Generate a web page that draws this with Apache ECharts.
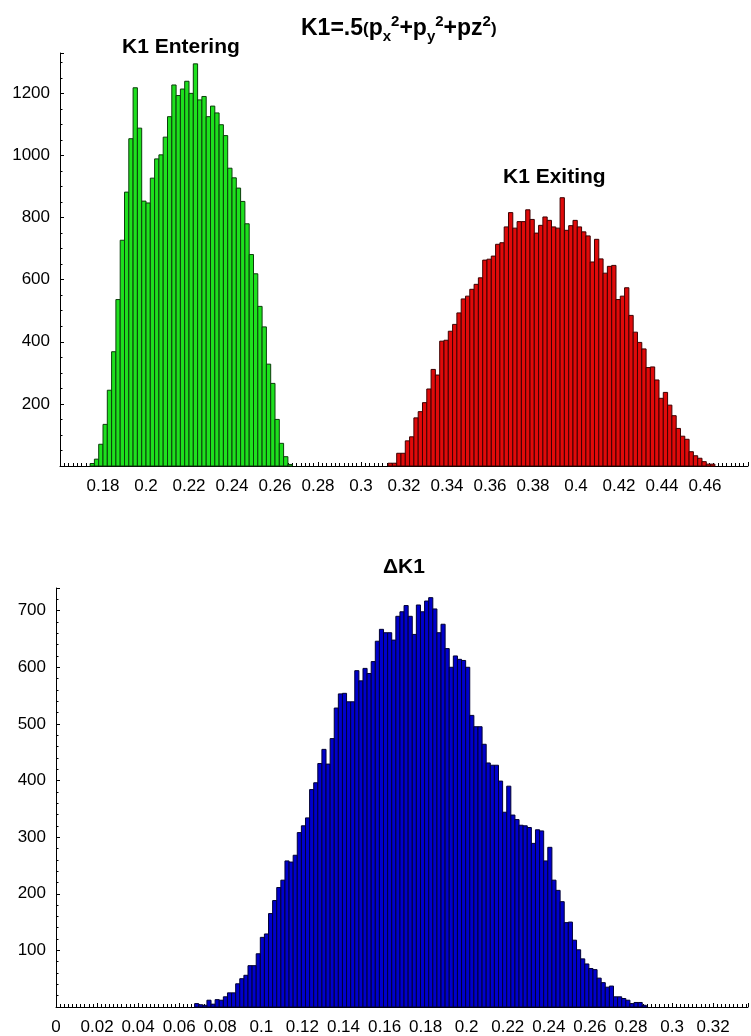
<!DOCTYPE html>
<html>
<head>
<meta charset="utf-8">
<script src="https://cdn.jsdelivr.net/npm/echarts@6/dist/echarts.min.js"></script>
<style>
    html, body { margin: 0; padding: 0; background: #fff; }
    #main { width: 751px; height: 1036px; }
</style>
</head>
<body>
<div id="main"></div>
<script>
/* ------ data ------ */

var binWidth = 0.002;

// K1 entering (green)
var enterStart = 0.174;
var enterCounts = [8, 22, 70, 134, 244, 368, 536, 727, 882, 1054, 1218, 1088, 853, 847, 927, 989, 1002, 1059, 1125, 1227,
    1193, 1214, 1239, 1200, 1295, 1179, 1190, 1125, 1159, 1137, 1099, 1064, 959, 928, 895, 852, 780, 681, 619, 514,
    448, 328, 266, 150, 73, 30, 5];

// K1 exiting (red)
var exitStart = 0.3126;
var exitCounts = [9, 9, 41, 41, 81, 94, 155, 175, 204, 248, 311, 293, 402, 405, 434, 456, 493, 538, 547, 569,
    585, 606, 663, 666, 676, 714, 719, 770, 816, 766, 787, 787, 825, 794, 750, 775, 802, 791, 770, 766,
    864, 759, 774, 791, 770, 754, 741, 657, 730, 667, 621, 643, 646, 536, 547, 574, 485, 431, 398, 377,
    317, 319, 277, 218, 237, 196, 162, 121, 96, 86, 46, 33, 25, 14, 6, 6];

// delta K1 (blue)
var deltaStart = 0.0675;
var deltaCounts = [6, 4, 3, 12, 5, 13, 12, 18, 25, 25, 41, 50, 56, 73, 73, 94, 123, 129, 165, 188,
    211, 224, 258, 256, 268, 308, 320, 334, 384, 396, 430, 455, 429, 474, 528, 553, 554, 539, 539, 594,
    576, 598, 589, 610, 646, 667, 661, 661, 648, 690, 698, 709, 690, 658, 710, 698, 717, 723, 703, 661,
    676, 633, 600, 620, 614, 612, 600, 515, 495, 495, 464, 431, 427, 427, 399, 344, 390, 339, 331, 321,
    320, 317, 289, 313, 311, 258, 282, 224, 206, 186, 149, 150, 118, 101, 85, 76, 68, 66, 51, 43,
    35, 37, 18, 18, 15, 12, 6, 8, 8, 3];

// axis ticks
var topXTicks = { min: 0.16, max: 0.48, step: 0.02 };
var topYTicks = { min: 0, max: 1330, step: 200 };
var botXTicks = { min: 0, max: 0.337, step: 0.02 };
var botYTicks = { min: 0, max: 740, step: 100 };

/* ------ helpers ------ */

function toBins(start, counts) {
    var out = [];
    for (var i = 0; i < counts.length; i++) {
        out.push([start + i * binWidth, start + (i + 1) * binWidth, counts[i]]);
    }
    return out;
}

function renderBar(params, api) {
    var p0 = api.coord([api.value(0), api.value(2)]);
    var p1 = api.coord([api.value(1), 0]);
    return {
        type: 'rect',
        shape: { x: p0[0], y: p0[1], width: p1[0] - p0[0], height: p1[1] - p0[1] },
        style: api.style()
    };
}

function onStep(v, step) {
    var k = v / step;
    return Math.abs(k - Math.round(k)) < 1e-6;
}

var font = "'Liberation Sans', Arial, sans-serif";

function xAxisOf(grid, t, hideMin, minorSplit) {
    return {
        type: 'value', gridIndex: grid,
        min: t.min, max: t.max, interval: t.step,
        axisLine: { onZero: false, lineStyle: { color: '#000', width: 1 } },
        axisTick: { inside: true, length: 4, lineStyle: { color: '#000' } },
        minorTick: { show: true, splitNumber: minorSplit, length: 3, lineStyle: { color: '#000' } },
        splitLine: { show: false },
        axisLabel: {
            color: '#000', fontSize: 17, fontFamily: font, margin: 12,
            formatter: function (v) {
                if (!onStep(v, t.step) || v > t.max - 1e-9) return '';
                if (hideMin && Math.abs(v - t.min) < 1e-9) return '';
                return String(+v.toFixed(2));
            }
        }
    };
}

function yAxisOf(grid, t, minorSplit) {
    return {
        type: 'value', gridIndex: grid,
        min: t.min, max: t.max, interval: t.step,
        axisLine: { show: true, lineStyle: { color: '#000', width: 1 } },
        axisTick: { show: true, inside: true, length: 4, lineStyle: { color: '#000' } },
        minorTick: { show: true, splitNumber: minorSplit, length: 2.5, lineStyle: { color: '#000' } },
        splitLine: { show: false },
        axisLabel: {
            color: '#000', fontSize: 17, fontFamily: font, margin: 10,
            formatter: function (v) {
                if (v === 0 || !onStep(v, t.step) || v > t.max - 1e-9) return '';
                return String(v);
            }
        }
    };
}

function histSeries(name, xi, yi, start, counts, fill, stroke) {
    return {
        name: name,
        type: 'custom',
        xAxisIndex: xi, yAxisIndex: yi,
        renderItem: renderBar,
        encode: { x: [0, 1], y: 2 },
        itemStyle: { color: fill, borderColor: stroke, borderWidth: 1 },
        data: toBins(start, counts)
    };
}

/* ------ chart ------ */

var chart = echarts.init(document.getElementById('main'));

var titleBold = { fontFamily: font, fontWeight: 'bold', fontSize: 21, color: '#000' };

option = {
    backgroundColor: '#fff',
    animation: false,
    title: [
        {
            text: '{b|K1=.5}{p|(}{b|p}{sub|x}{sup|2}{b|+p}{sub|y}{sup|2}{b|+pz}{sup|2}{p|)}',
            left: 301, top: 14, padding: 0,
            textStyle: {
                rich: {
                    b: { fontFamily: font, fontWeight: 'bold', fontSize: 23, color: '#000', lineHeight: 30 },
                    p: { fontFamily: font, fontSize: 17, color: '#000', lineHeight: 30 },
                    sub: { fontFamily: font, fontWeight: 'bold', fontSize: 15, color: '#000', lineHeight: 16, verticalAlign: 'bottom' },
                    sup: { fontFamily: font, fontWeight: 'bold', fontSize: 15, color: '#000', lineHeight: 16, verticalAlign: 'top' }
                }
            }
        },
        { text: 'K1 Entering', left: 122, top: 37, padding: 0, textStyle: titleBold },
        { text: 'K1 Exiting', left: 503, top: 167, padding: 0, textStyle: titleBold },
        { text: '\u0394K1', left: 383, top: 557, padding: 0, textStyle: titleBold }
    ],
    grid: [
        { left: 60, top: 53, width: 688, height: 413 },
        { left: 56, top: 588, width: 694, height: 422 }
    ],
    xAxis: [
        xAxisOf(0, topXTicks, true, 10),
        xAxisOf(1, botXTicks, false, 10)
    ],
    yAxis: [
        yAxisOf(0, topYTicks, 4),
        yAxisOf(1, botYTicks, 5)
    ],
    series: [
        histSeries('K1 Entering', 0, 0, enterStart, enterCounts, '#1ee01e', '#0b3d0b'),
        histSeries('K1 Exiting', 0, 0, exitStart, exitCounts, '#e00a0a', '#3d0000'),
        histSeries('\u0394K1', 1, 1, deltaStart, deltaCounts, '#0000cc', '#000033')
    ]
};
chart.setOption(option);
</script>
</body>
</html>
